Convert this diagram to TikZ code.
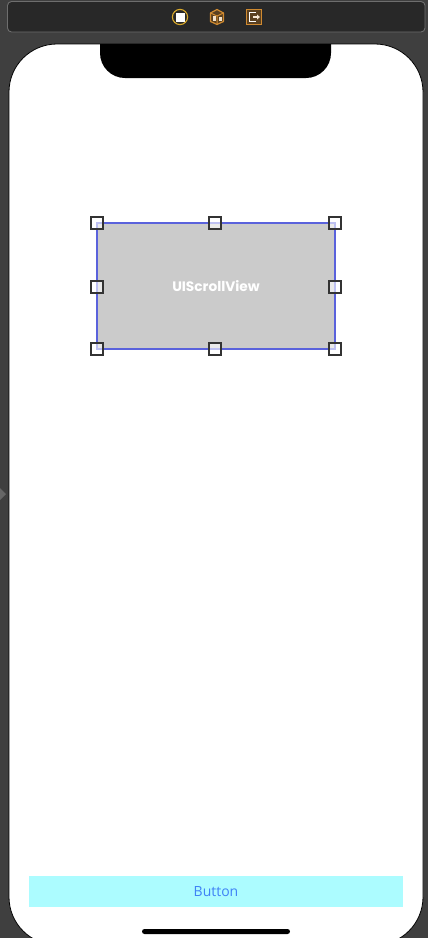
\documentclass[tikz,border=0pt]{standalone}
\usepackage{xcolor}
\usepackage{fontspec}
\setmainfont{Open Sans}
\newfontfamily\heavyfont{Poppins}
\definecolor{canvasgray}{HTML}{3F3F3F}
\definecolor{barfill}{HTML}{282828}
\definecolor{barline}{HTML}{6E6E6E}
\definecolor{scrollgray}{HTML}{CBCBCB}
\definecolor{selectblue}{HTML}{5A62DC}
\definecolor{handleline}{HTML}{333333}
\definecolor{buttoncyan}{HTML}{ACFCFF}
\definecolor{buttonblue}{HTML}{3F82F6}
\definecolor{iconorange}{HTML}{D08A30}
\definecolor{iconyellow}{HTML}{D9A92A}
\definecolor{iconbrown}{HTML}{5A4020}
\begin{document}
\begin{tikzpicture}[
    x=1pt, y=-1pt,
    handle/.style={rectangle, draw=handleline, line width=1.8pt, fill=white, fill opacity=0.6, draw opacity=1, minimum size=12pt, inner sep=0pt},
    scrollbox/.style={rectangle, draw=selectblue, line width=1.1pt, fill=scrollgray, minimum width=238pt, minimum height=126pt, inner sep=0pt},
    buttonbox/.style={rectangle, fill=buttoncyan, minimum width=374pt, minimum height=31pt, inner sep=0pt}
]
\useasboundingbox (0,0) rectangle (428,938);
\clip (0,0) rectangle (428,938);

% Canvas and toolbar
\fill[canvasgray] (0,0) rectangle (428,938);
\draw[barline, fill=barfill, line width=0.9pt, rounded corners=4pt] (7.5,1.5) rectangle (425,32);
\fill[gray!60!canvasgray] (0,488) -- (6,494) -- (0,500) -- cycle;

% Toolbar icons
\draw[iconyellow, fill=barfill, line width=1.1pt] (180,17) circle (7.6);
\fill[white] (175.5,12.5) rectangle (184.5,21.5);
\draw[iconorange, fill=iconbrown, line width=1.2pt, line join=round] (217,9.5) -- (223.5,13) -- (223.5,21.5) -- (217,24.5) -- (210.5,21.5) -- (210.5,13) -- cycle;
\draw[iconorange, line width=1pt] (210.5,13) -- (217,16) -- (223.5,13) (217,16) -- (217,24.5);
\fill[white!75!iconorange] (212.5,16) rectangle (215.5,21);
\fill[white!75!iconorange] (218.5,17) rectangle (221.5,21);
\draw[iconorange, fill=iconbrown, line width=1.2pt] (246.5,9.5) rectangle (261.5,24.5);
\draw[white, line width=1.1pt] (256,12.5) -- (249.5,12.5) -- (249.5,21.5) -- (256,21.5);
\draw[white!80!iconorange, line width=1.4pt] (253,17) -- (258,17);
\fill[white!80!iconorange] (257,14.5) -- (260,17) -- (257,19.5) -- cycle;

% Screen with notch
\draw[black, line width=0.8pt, fill=white, rounded corners=48pt] (9,44) rectangle (423,945);
\fill[black] (100,44) [rounded corners=25pt] -- (100,78) -- (331,78) [sharp corners] -- (331,44) -- cycle;

% Scroll view
\node[scrollbox] (scroll) at (216,286) {};
\node[text=white, font=\heavyfont\bfseries\fontsize{13.7}{16}\selectfont] (scrolltext) at (216,286) {UIScrollView};

% Handles
\node[handle] (nw) at (97,223) {};
\node[handle] (n) at (215,223) {};
\node[handle] (ne) at (335,223) {};
\node[handle] (w) at (97,287) {};
\node[handle] (e) at (335,287) {};
\node[handle] (sw) at (97,349) {};
\node[handle] (s) at (215,349) {};
\node[handle] (se) at (335,349) {};

% Button and home bar
\node[buttonbox, text=buttonblue, font=\fontsize{14}{17}\selectfont] (button) at (216,891.5) {Button};
\fill[black, rounded corners=2.5pt] (142,929) rectangle (290,934);
\end{tikzpicture}
\end{document}
